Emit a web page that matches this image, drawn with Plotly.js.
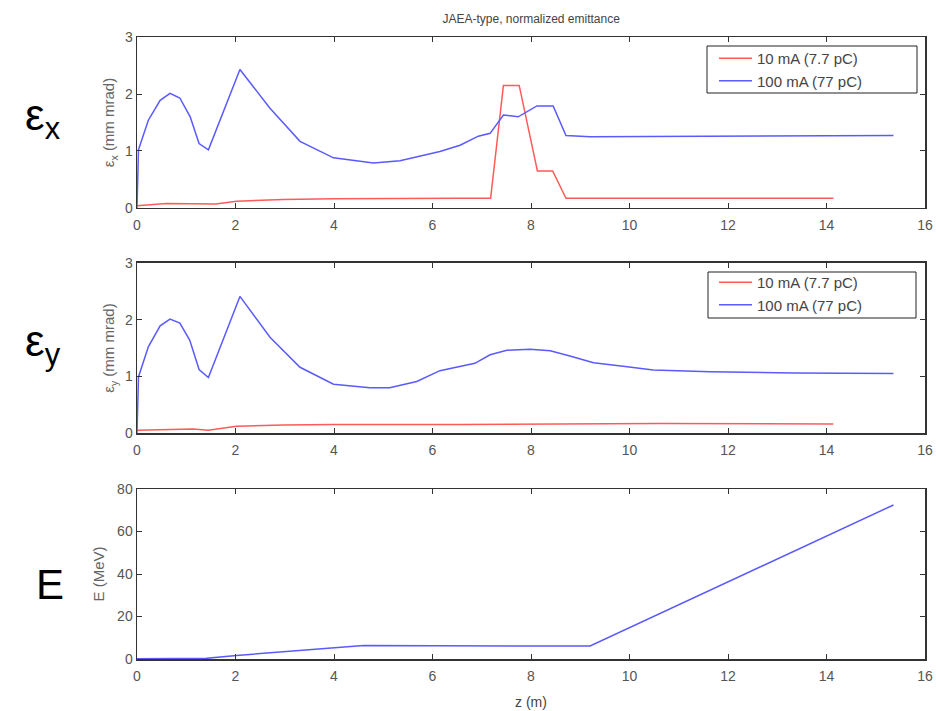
<!DOCTYPE html>
<html>
<head>
<meta charset="utf-8">
<script src="https://cdn.plot.ly/plotly-3.0.1.min.js"></script>
<style>html,body{margin:0;padding:0;background:#fff;}#chart{width:936px;height:711px;}</style>
</head>
<body>
<div id="chart"></div>
<script>
// ---- data ----
const exBlueZ = [0, 0.03, 0.23, 0.47, 0.67, 0.87, 1.08, 1.26, 1.45, 2.09, 2.70, 3.31, 3.99, 4.80, 5.34, 6.15, 6.56, 6.93, 7.17, 7.44, 7.74, 8.12, 8.45, 8.71, 9.2, 15.36];
const exBlueV = [0, 1.02, 1.54, 1.89, 2.01, 1.93, 1.60, 1.13, 1.02, 2.43, 1.75, 1.17, 0.88, 0.79, 0.83, 0.99, 1.10, 1.26, 1.31, 1.63, 1.60, 1.79, 1.79, 1.27, 1.25, 1.27];
const exRedZ = [0, 0.6, 1.6, 2.02, 2.97, 4.0, 6.56, 7.18, 7.44, 7.76, 8.13, 8.44, 8.71, 14.14];
const exRedV = [0.04, 0.08, 0.07, 0.12, 0.15, 0.16, 0.17, 0.17, 2.15, 2.15, 0.65, 0.65, 0.17, 0.17];

const eyBlueZ = [0, 0.03, 0.23, 0.47, 0.67, 0.87, 1.07, 1.26, 1.45, 2.09, 2.70, 3.31, 3.99, 4.73, 5.13, 5.68, 6.15, 6.56, 6.86, 7.17, 7.51, 7.98, 8.39, 8.79, 9.27, 9.87, 10.48, 11.63, 13.33, 15.36];
const eyBlueV = [0, 0.99, 1.52, 1.89, 2.01, 1.94, 1.64, 1.12, 0.98, 2.41, 1.69, 1.16, 0.86, 0.80, 0.80, 0.91, 1.10, 1.17, 1.23, 1.38, 1.46, 1.48, 1.45, 1.36, 1.24, 1.18, 1.11, 1.08, 1.06, 1.05];
const eyRedZ = [0, 0.74, 1.14, 1.45, 2.02, 2.97, 4.0, 6.56, 8.59, 10.6, 14.14];
const eyRedV = [0.05, 0.07, 0.07, 0.05, 0.12, 0.14, 0.15, 0.15, 0.16, 0.17, 0.16];

const eZ = [0, 1.41, 2.02, 3.04, 3.99, 4.6, 9.2, 15.36];
const eV = [0.1, 0.3, 1.7, 3.4, 5.0, 6.3, 6.1, 72.5];

const seriesNames = ['10 mA (7.7 pC)', '100 mA (77 pC)'];
const xTicks = [0, 2, 4, 6, 8, 10, 12, 14, 16];
const emitTicks = [0, 1, 2, 3];
const eTicks = [0, 20, 40, 60, 80];

const RED = '#ff5a5a', BLUE = '#5a5aff';
const FONT = 'Liberation Sans, Arial, sans-serif';

const traces = [
  {x: exRedZ, y: exRedV, name: seriesNames[0], xaxis: 'x', yaxis: 'y', mode: 'lines', line: {color: RED, width: 1.5}, legend: 'legend'},
  {x: exBlueZ, y: exBlueV, name: seriesNames[1], xaxis: 'x', yaxis: 'y', mode: 'lines', line: {color: BLUE, width: 1.5}, legend: 'legend'},
  {x: eyRedZ, y: eyRedV, name: seriesNames[0], xaxis: 'x2', yaxis: 'y2', mode: 'lines', line: {color: RED, width: 1.5}, legend: 'legend2'},
  {x: eyBlueZ, y: eyBlueV, name: seriesNames[1], xaxis: 'x2', yaxis: 'y2', mode: 'lines', line: {color: BLUE, width: 1.5}, legend: 'legend2'},
  {x: eZ, y: eV, name: 'E', xaxis: 'x3', yaxis: 'y3', mode: 'lines', line: {color: BLUE, width: 1.5}, showlegend: false}
];

const axCommon = {
  showline: true, linecolor: '#333', linewidth: 1.5, mirror: 'ticks',
  ticks: 'inside', ticklen: 5, tickwidth: 1, tickcolor: '#333',
  showgrid: false, zeroline: false,
  tickfont: {family: FONT, size: 14, color: '#555'}
};
function xa(anchor, title) {
  const o = Object.assign({}, axCommon, {range: [0, 16], tickvals: xTicks, ticktext: xTicks.map(String), anchor: anchor, domain: [0, 1], ticklabelstandoff: 4});
  if (title) o.title = {text: title, font: {family: FONT, size: 14, color: '#444'}, standoff: 14};
  return o;
}
function ya(anchor, dom, rng, tv, title, standoff) {
  return Object.assign({}, axCommon, {range: rng, tickvals: tv, ticktext: tv.map(String), anchor: anchor, domain: dom,
    title: {text: title, font: {family: FONT, size: 15, color: '#666'}, standoff: standoff}});
}
const legendCommon = {
  xanchor: 'left', x: 0.7322, yanchor: 'top',
  bgcolor: 'rgba(0,0,0,0)', borderwidth: 0,
  font: {family: FONT, size: 15, color: '#444'}, itemwidth: 33, tracegroupgap: 0
};
// legend frames (paper coords)
function px2x(p) { return (p - 137) / 788; }
function py2y(p) { return (659 - p) / 622; }
function frame(x0, x1, y0, y1) {
  return {type: 'rect', xref: 'paper', yref: 'paper', x0: px2x(x0), x1: px2x(x1), y0: py2y(y1), y1: py2y(y0),
    line: {color: '#222', width: 1}, fillcolor: '#fff', layer: 'above'};
}

const layout = {
  width: 936, height: 711,
  margin: {l: 137, r: 11, t: 37, b: 52},
  paper_bgcolor: '#fff', plot_bgcolor: '#fff',
  showlegend: true,
  title: {text: 'JAEA-type, normalized emittance', font: {family: FONT, size: 12, color: '#444'}, x: 0.5675, xanchor: 'center', y: 0.974, yanchor: 'middle'},
  xaxis: xa('y'),
  yaxis: ya('x', [0.7251, 1], [0, 3], emitTicks, 'ε<sub>x</sub> (mm mrad)', 6),
  xaxis2: xa('y2'),
  yaxis2: ya('x2', [0.3633, 0.6367], [0, 3], emitTicks, 'ε<sub>y</sub> (mm mrad)', 6),
  xaxis3: xa('y3', 'z (m)'),
  yaxis3: ya('x3', [0, 0.2733], [0, 80], eTicks, 'E (MeV)', 9),
  legend: Object.assign({}, legendCommon, {y: py2y(42)}),
  legend2: Object.assign({}, legendCommon, {y: py2y(266)}),
  shapes: [frame(707, 917, 46, 93), frame(708, 916, 272, 318)],
  annotations: [
    {text: 'ε<sub>x</sub>', xref: 'paper', yref: 'paper', x: -0.119, y: 0.869, xanchor: 'center', yanchor: 'middle', showarrow: false, font: {family: FONT, size: 44, color: '#000'}},
    {text: 'ε<sub>y</sub>', xref: 'paper', yref: 'paper', x: -0.119, y: 0.507, xanchor: 'center', yanchor: 'middle', showarrow: false, font: {family: FONT, size: 44, color: '#000'}},
    {text: 'E', xref: 'paper', yref: 'paper', x: -0.110, y: 0.119, xanchor: 'center', yanchor: 'middle', showarrow: false, font: {family: FONT, size: 42, color: '#000'}}
  ]
};

Plotly.newPlot('chart', traces, layout, {displayModeBar: false, staticPlot: true});
</script>
</body>
</html>
